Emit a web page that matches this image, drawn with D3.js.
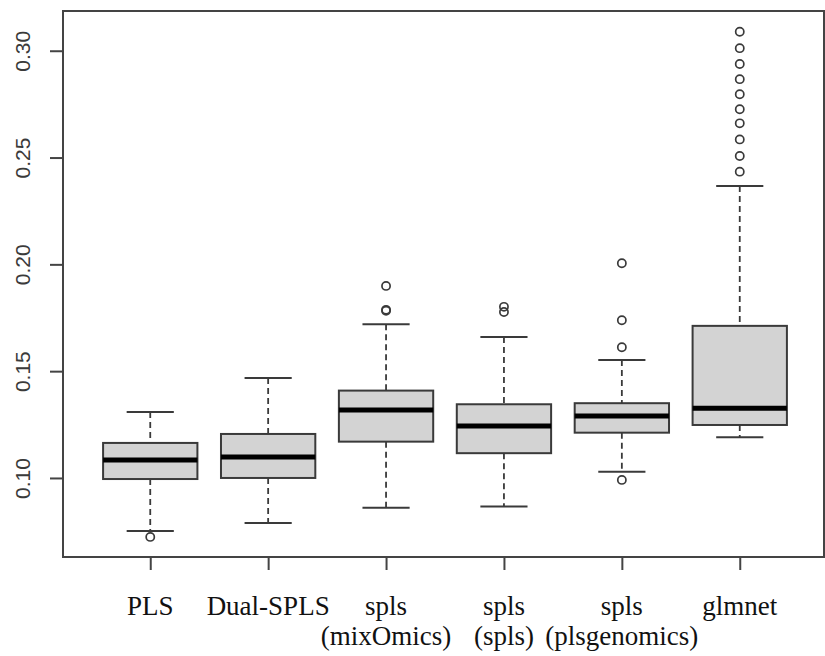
<!DOCTYPE html>
<html lang="en">
<head>
<meta charset="UTF-8">
<title>Boxplot</title>
<script src="https://d3js.org/d3.v7.min.js"></script>
<style>
  body { margin: 0; background: #fff; }
</style>
</head>
<body>
<script>
    // categories (each label may have two lines)
    var methods = [["PLS"], ["Dual-SPLS"], ["spls", "(mixOmics)"], ["spls", "(spls)"], ["spls", "(plsgenomics)"], ["glmnet"]];
    // box statistics
    var lowerWhisker = [0.0752, 0.0789, 0.0861, 0.0866, 0.1029, 0.1191];
    var q1 = [0.0995, 0.1000, 0.1170, 0.1116, 0.1212, 0.1248];
    var median = [0.1084, 0.1098, 0.1318, 0.1243, 0.1290, 0.1326];
    var q3 = [0.1164, 0.1206, 0.1409, 0.1345, 0.1350, 0.1712];
    var upperWhisker = [0.1309, 0.1468, 0.1720, 0.1660, 0.1552, 0.2367];
    var outliers = [
        [0.0724],
        [],
        [0.1899, 0.1787, 0.1783],
        [0.1801, 0.1777],
        [0.2005, 0.1738, 0.1612, 0.0991],
        [0.3089, 0.3012, 0.2938, 0.2867, 0.2796, 0.2726, 0.2660, 0.2585, 0.2507, 0.2434]
    ];
    var yTicks = [0.10, 0.15, 0.20, 0.25, 0.30];

    var width = 825, height = 656;
    var plotL = 63, plotR = 824, plotT = 11, plotB = 557;

    var svg = d3.select("body").append("svg")
        .attr("width", width)
        .attr("height", height);

    // R style: categories at 1..n, range padded 4%
    var x = d3.scaleLinear().domain([0.26, 6.74]).range([63, 827]);
    var y = d3.scaleLinear().domain([0.063, 0.3186]).range([plotB, plotT]);
    var boxW = x(1.4) - x(1);
    var capW = x(1.2) - x(1);

    var lineCol = "#3a3a3a";

    var g = svg.selectAll(".box")
        .data(methods)
        .enter()
        .append("g")
        .attr("class", "box");

    // whiskers (dashed)
    g.append("line")
        .attr("x1", function (d, i) { return x(i + 1); })
        .attr("x2", function (d, i) { return x(i + 1); })
        .attr("y1", function (d, i) { return y(upperWhisker[i]); })
        .attr("y2", function (d, i) { return y(q3[i]); })
        .attr("stroke", lineCol).attr("stroke-width", 1.8)
        .attr("stroke-dasharray", "6,4");
    g.append("line")
        .attr("x1", function (d, i) { return x(i + 1); })
        .attr("x2", function (d, i) { return x(i + 1); })
        .attr("y1", function (d, i) { return y(q1[i]); })
        .attr("y2", function (d, i) { return y(lowerWhisker[i]); })
        .attr("stroke", lineCol).attr("stroke-width", 1.8)
        .attr("stroke-dasharray", "6,4");

    // staples
    g.append("line")
        .attr("x1", function (d, i) { return x(i + 1) - capW; })
        .attr("x2", function (d, i) { return x(i + 1) + capW; })
        .attr("y1", function (d, i) { return y(upperWhisker[i]); })
        .attr("y2", function (d, i) { return y(upperWhisker[i]); })
        .attr("stroke", lineCol).attr("stroke-width", 2);
    g.append("line")
        .attr("x1", function (d, i) { return x(i + 1) - capW; })
        .attr("x2", function (d, i) { return x(i + 1) + capW; })
        .attr("y1", function (d, i) { return y(lowerWhisker[i]); })
        .attr("y2", function (d, i) { return y(lowerWhisker[i]); })
        .attr("stroke", lineCol).attr("stroke-width", 2);

    // box
    g.append("rect")
        .attr("x", function (d, i) { return x(i + 1) - boxW; })
        .attr("width", 2 * boxW)
        .attr("y", function (d, i) { return y(q3[i]); })
        .attr("height", function (d, i) { return y(q1[i]) - y(q3[i]); })
        .attr("fill", "#d3d3d3")
        .attr("stroke", lineCol).attr("stroke-width", 2);

    // median
    g.append("line")
        .attr("x1", function (d, i) { return x(i + 1) - boxW; })
        .attr("x2", function (d, i) { return x(i + 1) + boxW; })
        .attr("y1", function (d, i) { return y(median[i]); })
        .attr("y2", function (d, i) { return y(median[i]); })
        .attr("stroke", "#000").attr("stroke-width", 5);

    // outliers
    var pts = [];
    outliers.forEach(function (arr, i) {
        arr.forEach(function (v) { pts.push({ i: i, v: v }); });
    });
    svg.selectAll(".out")
        .data(pts)
        .enter()
        .append("circle")
        .attr("class", "out")
        .attr("cx", function (d) { return x(d.i + 1); })
        .attr("cy", function (d) { return y(d.v); })
        .attr("r", 4.1)
        .attr("fill", "none")
        .attr("stroke", lineCol)
        .attr("stroke-width", 1.7);

    // frame
    svg.append("rect")
        .attr("x", plotL).attr("y", plotT)
        .attr("width", plotR - plotL).attr("height", plotB - plotT)
        .attr("fill", "none")
        .attr("stroke", "#444").attr("stroke-width", 2);

    // y axis
    var yAxis = svg.append("g")
        .attr("transform", "translate(" + plotL + ",0)")
        .call(d3.axisLeft(y).tickValues(yTicks).tickSize(13).tickPadding(0).tickFormat(d3.format(".2f")));
    yAxis.select(".domain").remove();
    yAxis.selectAll(".tick line").attr("stroke", "#444").attr("stroke-width", 2);
    yAxis.selectAll(".tick text")
        .attr("x", 0).attr("dy", null)
        .attr("transform", "translate(-41,0) rotate(-90)")
        .attr("text-anchor", "middle")
        .attr("dominant-baseline", "central")
        .style("font-family", "'Liberation Sans', Arial, sans-serif")
        .style("font-size", "21px")
        .attr("fill", "#3a3a3a");

    // x axis
    var xAxis = svg.append("g")
        .attr("transform", "translate(0," + plotB + ")")
        .call(d3.axisBottom(x).tickValues(d3.range(1, methods.length + 1)).tickSize(13).tickFormat(""));
    xAxis.select(".domain").remove();
    xAxis.selectAll(".tick line").attr("stroke", "#444").attr("stroke-width", 2);

    var lab = svg.selectAll(".xlab")
        .data(methods)
        .enter()
        .append("text")
        .attr("class", "xlab")
        .attr("text-anchor", "middle")
        .style("font-family", "'Liberation Serif', 'Times New Roman', serif")
        .style("font-size", "27px")
        .attr("fill", "#111");
    lab.selectAll("tspan")
        .data(function (d, i) { return d.map(function (s) { return { s: s, i: i }; }); })
        .enter()
        .append("tspan")
        .attr("x", function (d) { return x(d.i + 1); })
        .attr("y", function (d, k) { return 615 + k * 30; })
        .text(function (d) { return d.s; });
</script>
</body>
</html>
